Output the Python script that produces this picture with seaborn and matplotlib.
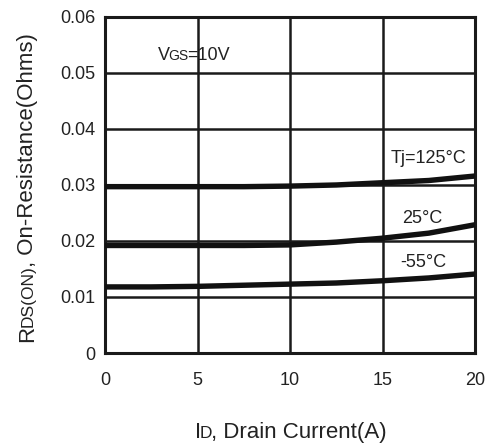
import matplotlib
matplotlib.use("Agg")
import matplotlib.pyplot as plt
import numpy as np
import pandas as pd
import seaborn as sns

# drain current (A) and on-resistance (Ohms)
current = [0, 2.5, 5, 7.5, 10, 12.5, 15, 17.5, 20]
r_125 = [0.0297, 0.0297, 0.0297, 0.0297, 0.0298, 0.0300, 0.0304, 0.0308, 0.0316]
r_25 = [0.0192, 0.0192, 0.0192, 0.0192, 0.0193, 0.0198, 0.0205, 0.0214, 0.0229]
r_m55 = [0.0118, 0.0118, 0.0119, 0.0121, 0.0123, 0.0125, 0.0129, 0.0134, 0.0141]
temps = ["Tj=125°C", "25°C", "-55°C"]
label_pos = [(17.46, 0.0348), (17.15, 0.0241), (17.2, 0.0161)]

x_ticks = [0, 5, 10, 15, 20]
y_ticks = [0, 0.01, 0.02, 0.03, 0.04, 0.05, 0.06]
y_tick_labels = ["0", "0.01", "0.02", "0.03", "0.04", "0.05", "0.06"]

df = pd.DataFrame({
    "current": current * 3,
    "rds": r_125 + r_25 + r_m55,
    "temp": [t for t in temps for _ in current],
})

sns.set_style("white")
plt.rcParams["font.family"] = ["Liberation Sans", "DejaVu Sans"]

fig = plt.figure(figsize=(4.93, 4.46), dpi=100)
ax = fig.add_axes([0.213, 0.2085, 0.7505, 0.7535])

sns.lineplot(data=df, x="current", y="rds", hue="temp", palette=["#111111"] * 3,
             linewidth=3.9, legend=False, ax=ax, zorder=3)

ax.set_xlim(0, 20)
ax.set_ylim(0, 0.06)
ax.set_xticks(x_ticks)
ax.set_yticks(y_ticks)
ax.set_yticklabels(y_tick_labels)
ax.tick_params(axis="both", length=0, labelsize=13, colors="#222222")
ax.tick_params(axis="x", pad=14)
ax.tick_params(axis="y", pad=7)
ax.grid(True, color="#1a1a1a", linewidth=1.8)
for s in ax.spines.values():
    s.set_visible(True)
    s.set_color("#1a1a1a")
    s.set_linewidth(2.2)
ax.set_xlabel("")
ax.set_ylabel("")

for t, (x, y) in zip(temps, label_pos):
    ax.text(x, y, t, fontsize=13, ha="center", va="center", color="#222222", zorder=4)


def rich_text(x, y, transform, parts, rotation=0):
    # place text pieces of different sizes on a common baseline, centred at (x, y)
    fig.canvas.draw()
    r = fig.canvas.get_renderer()
    widths = []
    for s, fs in parts:
        t = fig.text(0, 0, s, fontsize=fs)
        widths.append(t.get_window_extent(r).width - 1.5)
        t.remove()
    cx, cy = transform.transform((x, y))
    pos = -sum(widths) / 2
    inv = fig.transFigure.inverted()
    for (s, fs), w in zip(parts, widths):
        dx, dy = (cx + pos, cy) if rotation == 0 else (cx, cy + pos)
        fx, fy = inv.transform((dx, dy))
        fig.text(fx, fy, s, fontsize=fs, rotation=rotation, rotation_mode="anchor",
                 ha="left", va="baseline", color="#222222", zorder=5)
        pos += w


px = fig.dpi_scale_trans  # inches from bottom-left
H = fig.get_figheight()
rich_text(290 / 100, H - 438 / 100, px, [("I", 16), ("D", 12.5), (", Drain Current(A)", 16)])
rich_text(33 / 100, H - 188 / 100, px, [("R", 16), ("DS(ON)", 12.5), (", On-Resistance(Ohms)", 16)],
          rotation=90)
rich_text(4.76, 0.0523, ax.transData, [("V", 13), ("GS", 10), ("=10V", 13)])

fig.savefig("out.png", dpi=100)
